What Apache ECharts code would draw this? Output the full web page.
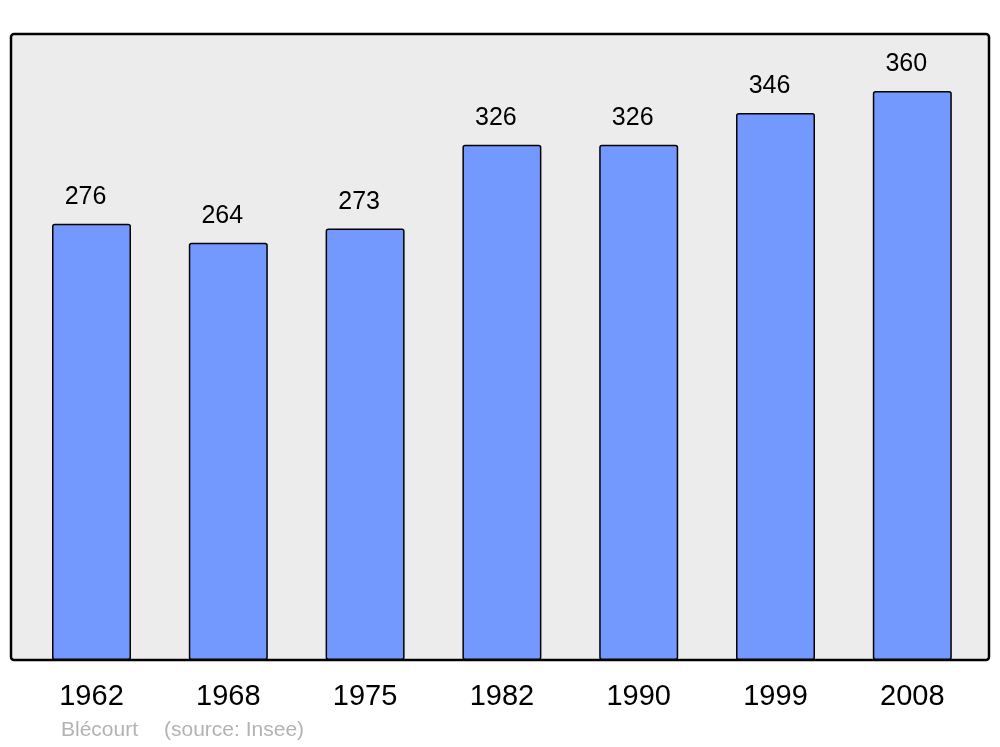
<!DOCTYPE html>
<html>
<head>
<meta charset="utf-8">
<script src="https://cdn.jsdelivr.net/npm/echarts@6/dist/echarts.min.js"></script>
<style>html,body{margin:0;padding:0;background:#fff}#c{width:1000px;height:747px}</style>
</head>
<body>
<div id="c"></div>
<script>
const years = ['1962','1968','1975','1982','1990','1999','2008'];
const population = [276, 264, 273, 326, 326, 346, 360];
const townName = 'Blécourt';
const sourceText = '(source: Insee)';

const chart = echarts.init(document.getElementById('c'), null, {renderer: 'canvas'});
const FONT = '"Liberation Sans", Arial, sans-serif';
chart.setOption({
  animation: false,
  backgroundColor: '#ffffff',
  textStyle: {fontFamily: FONT},
  graphic: [
    {type: 'rect', z: -10, shape: {x: 11, y: 34, width: 978, height: 626, r: 3},
     style: {fill: '#ececec', stroke: '#000', lineWidth: 2.5}},
    {type: 'text', left: 61, top: 720, style: {text: townName, fill: '#b3b3b3', font: '21px ' + FONT}},
    {type: 'text', left: 164, top: 720, style: {text: sourceText, fill: '#b3b3b3', font: '21px ' + FONT}}
  ],
  grid: {left: 23.1, right: 19.3, top: 34, bottom: 87, show: false},
  xAxis: {
    type: 'category', data: years,
    axisLine: {show: false}, axisTick: {show: false},
    axisLabel: {color: '#000', fontSize: 29, margin: 22, fontFamily: FONT}
  },
  yAxis: {
    type: 'value', min: 0, max: 396,
    show: false, splitLine: {show: false}
  },
  series: [{
    type: 'bar', data: population, barWidth: 79,
    itemStyle: {color: '#7399ff', borderColor: '#000', borderWidth: 1.5, borderRadius: 2},
    label: {show: true, position: 'top', distance: 14, offset: [-6, 0], color: '#000', fontSize: 25, fontFamily: FONT}
  }]
});
</script>
</body>
</html>
